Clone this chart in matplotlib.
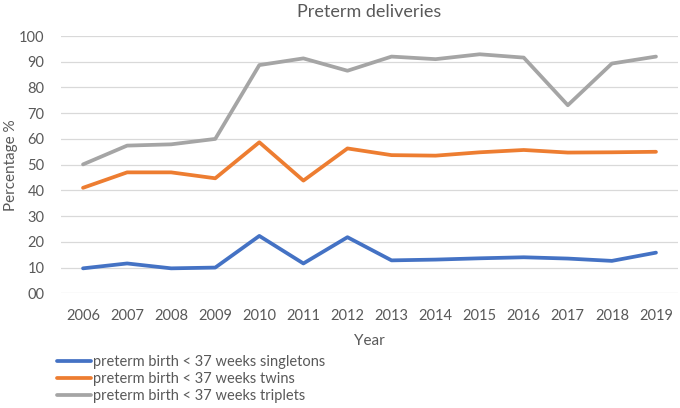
import matplotlib
matplotlib.use('Agg')
import matplotlib.pyplot as plt

years = ['2006', '2007', '2008', '2009', '2010', '2011', '2012',
         '2013', '2014', '2015', '2016', '2017', '2018', '2019']
singletons = [9.7, 11.6, 9.7, 10.0, 22.3, 11.6, 21.8, 12.8, 13.1, 13.6, 14.0, 13.5, 12.6, 15.8]
twins = [41.0, 47.0, 47.0, 44.7, 58.7, 43.8, 56.3, 53.7, 53.5, 54.8, 55.7, 54.7, 54.8, 55.0]
triplets = [50.1, 57.4, 57.9, 60.0, 88.7, 91.3, 86.5, 92.0, 91.0, 92.9, 91.6, 73.1, 89.3, 92.0]
series_names = ['preterm birth < 37 weeks singletons',
                'preterm birth < 37 weeks twins',
                'preterm birth < 37 weeks triplets']
yticks = [0, 10, 20, 30, 40, 50, 60, 70, 80, 90, 100]
ytick_labels = ['00', '10', '20', '30', '40', '50', '60', '70', '80', '90', '100']

plt.rcParams['font.family'] = ['Lato', 'DejaVu Sans']
txt = '#595959'

fig = plt.figure(figsize=(6.8, 4.08), dpi=100)
ax = fig.add_axes([61/680, 1 - 293.3/408, 617/680, (293.3 - 36)/408])

x = range(len(years))
colors = ['#4472C4', '#ED7D31', '#A5A5A5']
lines = []
for vals, c, name in zip([singletons, twins, triplets], colors, series_names):
    l, = ax.plot(x, vals, color=c, lw=2.7, label=name, solid_capstyle='round', solid_joinstyle='round')
    lines.append(l)

ax.set_xlim(-0.5, len(years) - 0.5)
ax.set_ylim(0, 100)
ax.set_xticks(list(x))
ax.set_xticklabels(years)
ax.set_yticks(yticks)
ax.set_yticklabels(ytick_labels)
ax.tick_params(length=0, labelsize=10.5, colors=txt, pad=11)
ax.tick_params(axis='y', pad=12)
ax.grid(axis='y', color='#D9D9D9', lw=0.9)
ax.set_axisbelow(True)
for s in ax.spines.values():
    s.set_visible(False)

ax.set_title('Preterm deliveries', fontsize=13, color=txt, pad=14)
ax.set_xlabel('Year', fontsize=11, color=txt, labelpad=8)
# y label placed by hand, close to the left edge like the reference
fig.text(11/680, 1 - 165/408, 'Percentage %', rotation=90, ha='center', va='center',
         fontsize=11, color=txt)

fig.legend(handles=lines, loc='upper left', bbox_to_anchor=(57/680, 1 - 355/408),
           frameon=False, fontsize=10.5, labelcolor=txt, handlelength=2.3,
           handletextpad=0.2, labelspacing=0.2, borderpad=0, borderaxespad=0)

fig.savefig('out.png', dpi=100)
